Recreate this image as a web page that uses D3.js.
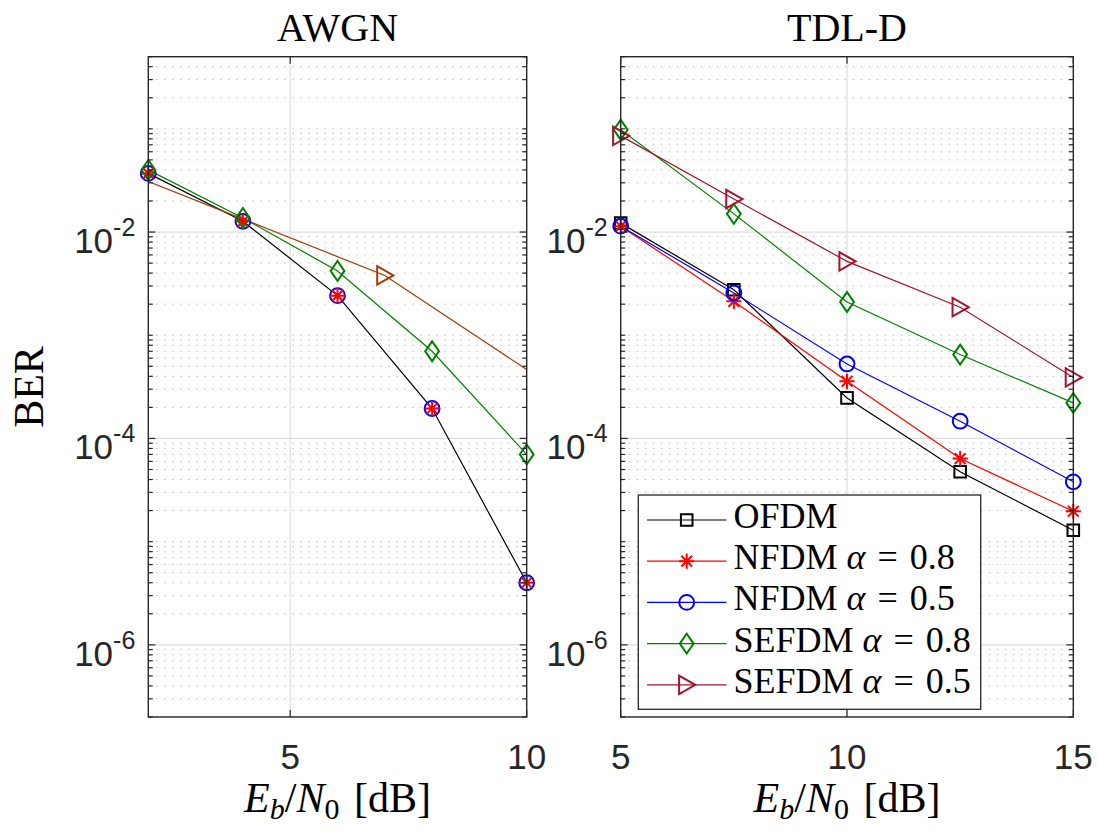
<!DOCTYPE html>
<html>
<head>
<meta charset="utf-8">
<script src="https://cdn.jsdelivr.net/npm/d3@7"></script>
<style>
  html, body { margin: 0; padding: 0; background: #fff; }
  svg { display: block; }
</style>
</head>
<body>
<svg id="chart" width="1099" height="833"></svg>
<script>
// ---- data -------------------------------------------------------------
const panelTitles = ["AWGN", "TDL-D"];

// AWGN channel
const awgnX = [2, 4, 6, 8, 10];
const awgnOFDM = [0.037, 0.0127, 0.00242, 1.95e-4, 4.0e-6];
const awgnNFDM08 = [0.037, 0.0127, 0.00242, 1.95e-4, 4.0e-6];
const awgnNFDM05 = [0.037, 0.0127, 0.00242, 1.95e-4, 4.0e-6];
const awgnSEFDM08 = [0.040, 0.0137, 0.0042, 7.0e-4, 7.0e-5];
const awgnSEFDM05X = [1, 7, 13];
const awgnSEFDM05 = [0.047, 0.0038, 5.7e-5];

// TDL-D channel
const tdlX = [5, 7.5, 10, 12.5, 15];
const tdlOFDM = [0.0122, 0.00276, 2.47e-4, 4.75e-5, 1.29e-5];
const tdlNFDM08 = [0.0114, 0.00213, 3.58e-4, 6.38e-5, 1.97e-5];
const tdlNFDM05 = [0.0114, 0.00257, 5.27e-4, 1.47e-4, 3.8e-5];
const tdlSEFDM08 = [0.098, 0.015, 0.0021, 6.5e-4, 2.21e-4];
const tdlSEFDM05 = [0.0855, 0.0209, 0.0052, 0.00187, 3.9e-4];

const legendNames = ["OFDM", "NFDM", "NFDM", "SEFDM", "SEFDM"];
const legendAlphas = [null, "0.8", "0.5", "0.8", "0.5"];

const yTickExps = [-2, -4, -6];
const awgnXTicks = [5, 10];
const tdlXTicks = [5, 10, 15];

// ---- layout -----------------------------------------------------------
const svg = d3.select("#chart");
const AX = "#262626";
const plotTop = 56.7, plotBottom = 717;

const y = d3.scaleLog().domain([2e-7, 0.5]).range([plotBottom, plotTop]);

const panels = [
  { id: "awgn", x0: 148.3, x1: 526.7, dom: [2, 10], ticks: awgnXTicks, title: panelTitles[0],
    series: [
      { x: awgnX, v: awgnOFDM, color: "#000000", marker: null },
      { x: awgnX, v: awgnNFDM05, color: "#0000FF", marker: "circle", noLine: true },
      { x: awgnX, v: awgnNFDM08, color: "#FF0000", marker: "star", noLine: true },
      { x: awgnX, v: awgnSEFDM08, color: "#008000", marker: "diamond" },
      { x: awgnSEFDM05X, v: awgnSEFDM05, color: "#9E3C08", marker: "triangle" }
    ] },
  { id: "tdl", x0: 620.7, x1: 1073.3, dom: [5, 15], ticks: tdlXTicks, title: panelTitles[1],
    series: [
      { x: tdlX, v: tdlOFDM, color: "#000000", marker: "square" },
      { x: tdlX, v: tdlNFDM08, color: "#FF0000", marker: "star" },
      { x: tdlX, v: tdlNFDM05, color: "#0000FF", marker: "circle" },
      { x: tdlX, v: tdlSEFDM08, color: "#008000", marker: "diamond" },
      { x: tdlX, v: tdlSEFDM05, color: "#A2142F", marker: "triangle" }
    ] }
];

// MATLAB-like marker outlines, centred on 0,0
function markerPath(kind) {
  const p = d3.path();
  if (kind === "square") {
    const s = 5.8; p.rect(-s, -s, 2 * s, 2 * s);
  } else if (kind === "circle") {
    p.moveTo(7.4, 0); p.arc(0, 0, 7.4, 0, 2 * Math.PI);
  } else if (kind === "diamond") {
    p.moveTo(0, -9.9); p.lineTo(6.9, 0); p.lineTo(0, 9.9); p.lineTo(-6.9, 0); p.closePath();
  } else if (kind === "triangle") {
    p.moveTo(-7.6, -9.2); p.lineTo(8.6, 0); p.lineTo(-7.6, 9.2); p.closePath();
  } else if (kind === "star") {
    const r = 7.6, d = r * Math.SQRT1_2;
    p.moveTo(0, -r); p.lineTo(0, r);
    p.moveTo(-r, 0); p.lineTo(r, 0);
    p.moveTo(-d, -d); p.lineTo(d, d);
    p.moveTo(-d, d); p.lineTo(d, -d);
  }
  return p.toString();
}

const defs = svg.append("defs");

panels.forEach(P => {
  const x = d3.scaleLinear().domain(P.dom).range([P.x0, P.x1]);
  const g = svg.append("g");

  defs.append("clipPath").attr("id", "clip-" + P.id)
    .append("rect").attr("x", P.x0).attr("y", plotTop).attr("width", P.x1 - P.x0).attr("height", plotBottom - plotTop);

  // grid: minor (dotted) and major (solid) horizontal lines
  const minorVals = [];
  for (let e = -7; e <= 0; e++) for (let m = 1; m <= 9; m++) {
    const v = m * Math.pow(10, e);
    if (v >= 2e-7 && v <= 0.5) minorVals.push(v);
  }
  const majorVals = yTickExps.map(e => Math.pow(10, e));
  const isMajor = v => majorVals.some(mv => Math.abs(Math.log10(v) - Math.log10(mv)) < 1e-9);

  g.append("g").selectAll("line").data(minorVals.filter(v => !isMajor(v))).join("line")
    .attr("x1", P.x0).attr("x2", P.x1).attr("y1", d => y(d)).attr("y2", d => y(d))
    .attr("stroke", "#bdbdbd").attr("stroke-width", 1).attr("stroke-dasharray", "1.5,6.5");

  g.append("g").selectAll("line").data(majorVals).join("line")
    .attr("x1", P.x0).attr("x2", P.x1).attr("y1", d => y(d)).attr("y2", d => y(d))
    .attr("stroke", "#dedede").attr("stroke-width", 1.2);

  g.append("g").selectAll("line").data(P.ticks.filter(t => x(t) > P.x0 + 1 && x(t) < P.x1 - 1)).join("line")
    .attr("x1", d => x(d)).attr("x2", d => x(d)).attr("y1", plotTop).attr("y2", plotBottom)
    .attr("stroke", "#dedede").attr("stroke-width", 1.2);

  // data
  const plot = g.append("g").attr("clip-path", "url(#clip-" + P.id + ")");
  const line = d3.line().x(d => x(d[0])).y(d => y(d[1]));
  P.series.forEach(s => {
    const pts = s.x.map((xv, i) => [xv, s.v[i]]);
    if (!s.noLine) {
      plot.append("path").attr("d", line(pts)).attr("fill", "none")
        .attr("stroke", s.color).attr("stroke-width", 1.2);
    }
  });
  const mk = g.append("g");
  P.series.forEach(s => {
    if (!s.marker) return;
    const pts = s.x.map((xv, i) => [xv, s.v[i]])
      .filter(d => d[0] >= P.dom[0] && d[0] <= P.dom[1]);
    mk.selectAll(null).data(pts).join("path")
      .attr("transform", d => `translate(${x(d[0])},${y(d[1])})`)
      .attr("d", markerPath(s.marker))
      .attr("fill", "none").attr("stroke", s.color).attr("stroke-width", 2)
      .attr("stroke-linejoin", "miter");
  });

  // ticks (inside, all four sides)
  const tk = g.append("g").attr("stroke", AX).attr("stroke-width", 1.2);
  minorVals.forEach(v => {
    const len = isMajor(v) ? 7 : 4.5;
    tk.append("line").attr("x1", P.x0).attr("x2", P.x0 + len).attr("y1", y(v)).attr("y2", y(v));
    tk.append("line").attr("x1", P.x1).attr("x2", P.x1 - len).attr("y1", y(v)).attr("y2", y(v));
  });
  P.ticks.forEach(t => {
    tk.append("line").attr("x1", x(t)).attr("x2", x(t)).attr("y1", plotBottom).attr("y2", plotBottom - 7);
    tk.append("line").attr("x1", x(t)).attr("x2", x(t)).attr("y1", plotTop).attr("y2", plotTop + 7);
  });

  // box
  g.append("rect").attr("x", P.x0).attr("y", plotTop).attr("width", P.x1 - P.x0).attr("height", plotBottom - plotTop)
    .attr("fill", "none").attr("stroke", AX).attr("stroke-width", 1.4);

  // x tick labels
  g.append("g").selectAll("text").data(P.ticks).join("text")
    .attr("x", d => x(d)).attr("y", 769).attr("text-anchor", "middle")
    .attr("font-family", "Liberation Sans, Arial, sans-serif").attr("font-size", 35)
    .attr("fill", AX).text(d => d);

  // y tick labels 10^e
  const yl = g.append("g").selectAll("text").data(yTickExps).join("text")
    .attr("x", P.x0 - 13).attr("y", d => y(Math.pow(10, d)) + 21).attr("text-anchor", "end")
    .attr("font-family", "Liberation Sans, Arial, sans-serif").attr("font-size", 35).attr("fill", AX);
  yl.append("tspan").text("10");
  yl.append("tspan").attr("font-size", 25).attr("dy", -17).text(d => String(d));

  // title
  g.append("text").attr("x", (P.x0 + P.x1) / 2).attr("y", 41).attr("text-anchor", "middle")
    .attr("font-family", "Liberation Serif, Times New Roman, serif").attr("font-size", 40)
    .attr("fill", "#000").text(P.title);

  // x label: E_b/N_0 [dB]
  const xl = g.append("text").attr("x", (P.x0 + P.x1) / 2).attr("y", 812).attr("text-anchor", "middle")
    .attr("font-family", "Liberation Serif, Times New Roman, serif").attr("font-size", 42).attr("fill", "#000");
  xl.append("tspan").attr("font-style", "italic").text("E");
  xl.append("tspan").attr("font-style", "italic").attr("font-size", 30).attr("dy", 7).text("b");
  xl.append("tspan").attr("dy", -7).text("/");
  xl.append("tspan").attr("font-style", "italic").text("N");
  xl.append("tspan").attr("font-size", 30).attr("dy", 7).text("0");
  xl.append("tspan").attr("dy", -7).attr("dx", 4).text(" [dB]");
});

// y label
svg.append("text").attr("transform", "translate(43,387) rotate(-90)").attr("text-anchor", "middle")
  .attr("font-family", "Liberation Serif, Times New Roman, serif").attr("font-size", 42)
  .attr("fill", "#000").text("BER");

// legend (right panel)
const legendSeries = panels[1].series;
const lg = svg.append("g");
lg.append("rect").attr("x", 638.3).attr("y", 495).attr("width", 342.4).attr("height", 214.3)
  .attr("fill", "#fff").attr("stroke", AX).attr("stroke-width", 1.3);
legendSeries.forEach((s, i) => {
  const cy = 520 + i * 41.2;
  lg.append("line").attr("x1", 647).attr("x2", 726.5).attr("y1", cy).attr("y2", cy)
    .attr("stroke", s.color).attr("stroke-width", 1.2);
  lg.append("path").attr("transform", `translate(686.7,${cy})`).attr("d", markerPath(s.marker))
    .attr("fill", "none").attr("stroke", s.color).attr("stroke-width", 2);
  const t = lg.append("text").attr("x", 733.5).attr("y", cy + 8)
    .attr("font-family", "Liberation Serif, Times New Roman, serif").attr("font-size", 36).attr("fill", "#000");
  t.append("tspan").text(legendNames[i]);
  if (legendAlphas[i]) {
    t.append("tspan").text(" ");
    t.append("tspan").attr("font-style", "italic").text("α");
    t.append("tspan").attr("dx", 3).text(" =");
    t.append("tspan").attr("dx", 3).text(" " + legendAlphas[i]);
  }
});
</script>
</body>
</html>
